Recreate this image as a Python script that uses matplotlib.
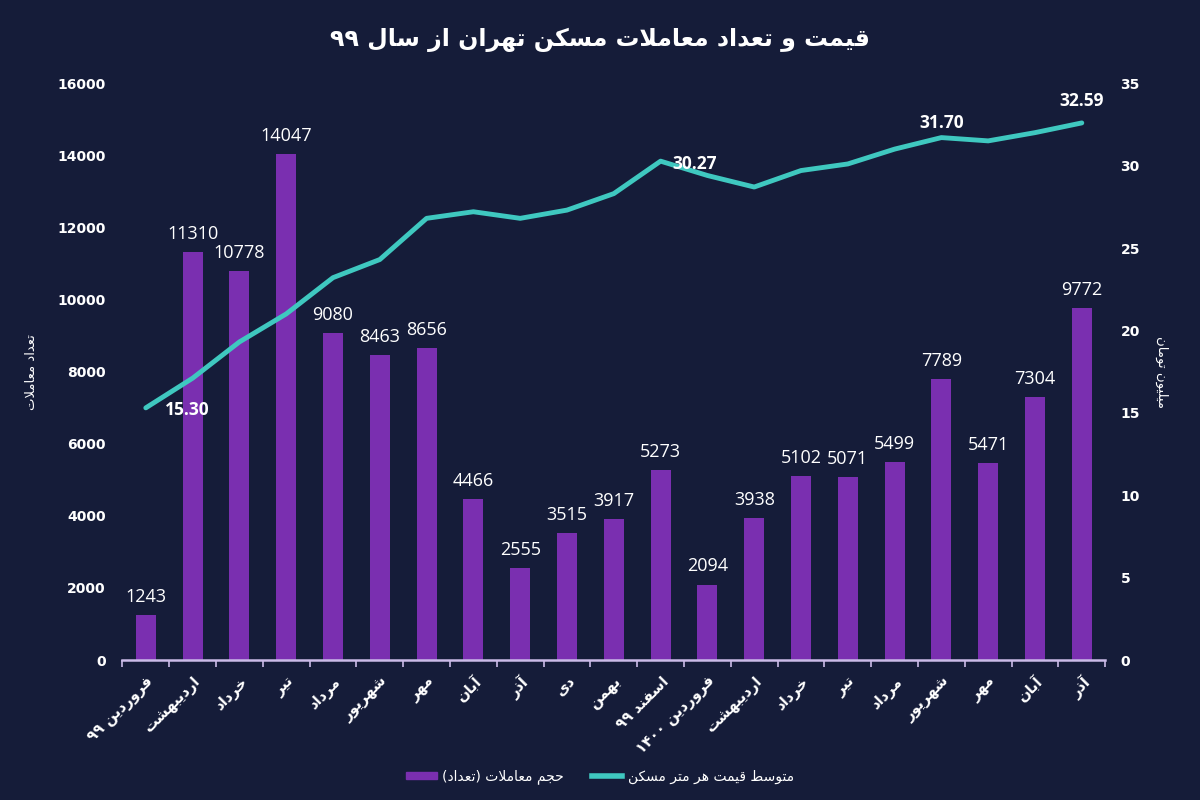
import re
import matplotlib
matplotlib.use("Agg")
import matplotlib.pyplot as plt
from matplotlib.lines import Line2D
from matplotlib.patches import Patch

# Persian letters -> (isolated, final, initial, medial) presentation forms
FORMS = {
    "ا": ("\uFE8D", "\uFE8E", None, None),
    "آ": ("\uFE81", "\uFE82", None, None),
    "ب": ("\uFE8F", "\uFE90", "\uFE91", "\uFE92"),
    "پ": ("\uFB56", "\uFB57", "\uFB58", "\uFB59"),
    "ت": ("\uFE95", "\uFE96", "\uFE97", "\uFE98"),
    "ج": ("\uFE9D", "\uFE9E", "\uFE9F", "\uFEA0"),
    "ح": ("\uFEA1", "\uFEA2", "\uFEA3", "\uFEA4"),
    "خ": ("\uFEA5", "\uFEA6", "\uFEA7", "\uFEA8"),
    "د": ("\uFEA9", "\uFEAA", None, None),
    "ر": ("\uFEAD", "\uFEAE", None, None),
    "ز": ("\uFEAF", "\uFEB0", None, None),
    "س": ("\uFEB1", "\uFEB2", "\uFEB3", "\uFEB4"),
    "ش": ("\uFEB5", "\uFEB6", "\uFEB7", "\uFEB8"),
    "ط": ("\uFEC1", "\uFEC2", "\uFEC3", "\uFEC4"),
    "ع": ("\uFEC9", "\uFECA", "\uFECB", "\uFECC"),
    "ف": ("\uFED1", "\uFED2", "\uFED3", "\uFED4"),
    "ق": ("\uFED5", "\uFED6", "\uFED7", "\uFED8"),
    "ک": ("\uFB8E", "\uFB8F", "\uFB90", "\uFB91"),
    "ل": ("\uFEDD", "\uFEDE", "\uFEDF", "\uFEE0"),
    "م": ("\uFEE1", "\uFEE2", "\uFEE3", "\uFEE4"),
    "ن": ("\uFEE5", "\uFEE6", "\uFEE7", "\uFEE8"),
    "ه": ("\uFEE9", "\uFEEA", "\uFEEB", "\uFEEC"),
    "و": ("\uFEED", "\uFEEE", None, None),
    "ی": ("\uFBFC", "\uFBFD", "\uFBFE", "\uFBFF"),
}
LAM_ALEF = {"ا": ("\uFEFB", "\uFEFC"), "آ": ("\uFEF5", "\uFEF6")}


def shape(text):
    out = []
    i = 0
    n = len(text)
    while i < n:
        c = text[i]
        if c not in FORMS:
            out.append(c)
            i += 1
            continue
        prev = text[i - 1] if i > 0 else None
        joins_prev = prev in FORMS and FORMS[prev][2] is not None
        nxt = text[i + 1] if i + 1 < n else None
        if c == "ل" and nxt in LAM_ALEF:
            out.append(LAM_ALEF[nxt][1 if joins_prev else 0])
            i += 2
            continue
        joins_next = nxt in FORMS and FORMS[c][2] is not None
        iso, fin, ini, med = FORMS[c]
        if joins_prev and joins_next:
            out.append(med)
        elif joins_prev:
            out.append(fin)
        elif joins_next:
            out.append(ini)
        else:
            out.append(iso)
        i += 1
    return "".join(out)


def fa(text):
    s = shape(text)
    runs = re.findall(r"[0-9\u06F0-\u06F9.]+|[^0-9\u06F0-\u06F9.]+", s)
    swap = {"(": ")", ")": "("}
    vis = []
    for r in reversed(runs):
        if re.match(r"[0-9\u06F0-\u06F9.]", r):
            vis.append(r)
        else:
            vis.append("".join(swap.get(ch, ch) for ch in reversed(r)))
    return "".join(vis)


months = ["فروردین ۹۹", "اردیبهشت", "خرداد", "تیر", "مرداد", "شهریور", "مهر",
          "آبان", "آذر", "دی", "بهمن", "اسفند ۹۹", "فروردین ۱۴۰۰", "اردیبهشت",
          "خرداد", "تیر", "مرداد", "شهریور", "مهر", "آبان", "آذر"]
deals = [1243, 11310, 10778, 14047, 9080, 8463, 8656, 4466, 2555, 3515, 3917,
         5273, 2094, 3938, 5102, 5071, 5499, 7789, 5471, 7304, 9772]
price = [15.30, 17.1, 19.3, 21.0, 23.2, 24.3, 26.8, 27.2, 26.8, 27.3, 28.3,
         30.27, 29.4, 28.7, 29.7, 30.1, 31.0, 31.70, 31.5, 32.0, 32.59]
price_labels = {0: "15.30", 11: "30.27", 17: "31.70", 20: "32.59"}

bg = "#151c39"
bar_color = "#7a2fb0"
line_color = "#3fc8c0"
axis_color = "#cbbbe8"

plt.rcParams["font.family"] = ["DejaVu Sans"]

fig = plt.figure(figsize=(12, 8), dpi=100, facecolor=bg)
ax = fig.add_axes([0.102, 0.175, 0.819, 0.721])
ax.set_facecolor(bg)
ax2 = ax.twinx()

x = list(range(len(months)))
ax.bar(x, deals, width=0.43, color=bar_color, zorder=2)
for xi, v in zip(x, deals):
    ax.text(xi, v + 250, str(v), ha="center", va="bottom", color="white",
            fontsize=13, family=["Open Sans", "DejaVu Sans"])

ax.set_xlim(-0.5, len(months) - 0.5)
ax.set_ylim(0, 16000)
ax.set_yticks(range(0, 16001, 2000))
ax2.set_ylim(0, 35)
ax2.set_yticks(range(0, 36, 5))

ax2.plot(x, price, color=line_color, lw=3.5, solid_capstyle="round",
         solid_joinstyle="round")
offsets = {0: (0.88, -0.1, "center"), 11: (0.25, -0.2, "left"),
           17: (0.0, 0.9, "center"), 20: (0.0, 1.3, "center")}
for i, lab in price_labels.items():
    dx, dy, ha = offsets[i]
    ax2.text(x[i] + dx, price[i] + dy, lab, ha=ha, va="center",
             color="white", fontsize=12.5, fontweight="bold",
             family=["Open Sans", "DejaVu Sans"])

for a in (ax, ax2):
    for s in a.spines.values():
        s.set_visible(False)
ax.spines["bottom"].set_visible(True)
ax.spines["bottom"].set_color(axis_color)
ax.spines["bottom"].set_linewidth(1.8)

ax.set_xticks([i - 0.5 for i in range(len(months) + 1)])
ax.set_xticklabels([])
ax.set_xticks(x, minor=True)
ax.set_xticklabels([fa(m) for m in months], minor=True, rotation=45,
                   ha="right", rotation_mode="anchor", color="white",
                   fontsize=10.5, fontweight="bold")
ax.tick_params(axis="x", which="major", length=5, width=1.2, color=axis_color, direction="out")
ax.tick_params(axis="x", which="minor", length=0, pad=10)
ax.tick_params(axis="y", length=0, colors="white", labelsize=10, pad=12)
ax2.tick_params(axis="y", length=0, colors="white", labelsize=10, pad=11)
for t in ax.get_yticklabels() + ax2.get_yticklabels():
    t.set_fontweight("bold")

ax.set_ylabel(fa("تعداد معاملات"), color="white", fontsize=9.5, labelpad=14)
ax2.set_ylabel(fa("میلیون تومان"), color="white", fontsize=9.5, rotation=270, labelpad=20)

fig.text(0.5, 0.95, fa("قیمت و تعداد معاملات مسکن تهران از سال ۹۹"),
         ha="center", va="center", color="white", fontsize=17, fontweight="bold")

handles = [Patch(color=bar_color), Line2D([0], [0], color=line_color, lw=4)]
labels = [fa("حجم معاملات (تعداد)"), fa("متوسط قیمت هر متر مسکن")]
leg = fig.legend(handles, labels, loc="center", bbox_to_anchor=(0.5, 0.029), ncol=2,
                 frameon=False, fontsize=10, handlelength=2.2, columnspacing=2.0,
                 handletextpad=0.4, handleheight=0.5)
for t in leg.get_texts():
    t.set_color("white")

fig.savefig("out.png", dpi=100, facecolor=bg)
